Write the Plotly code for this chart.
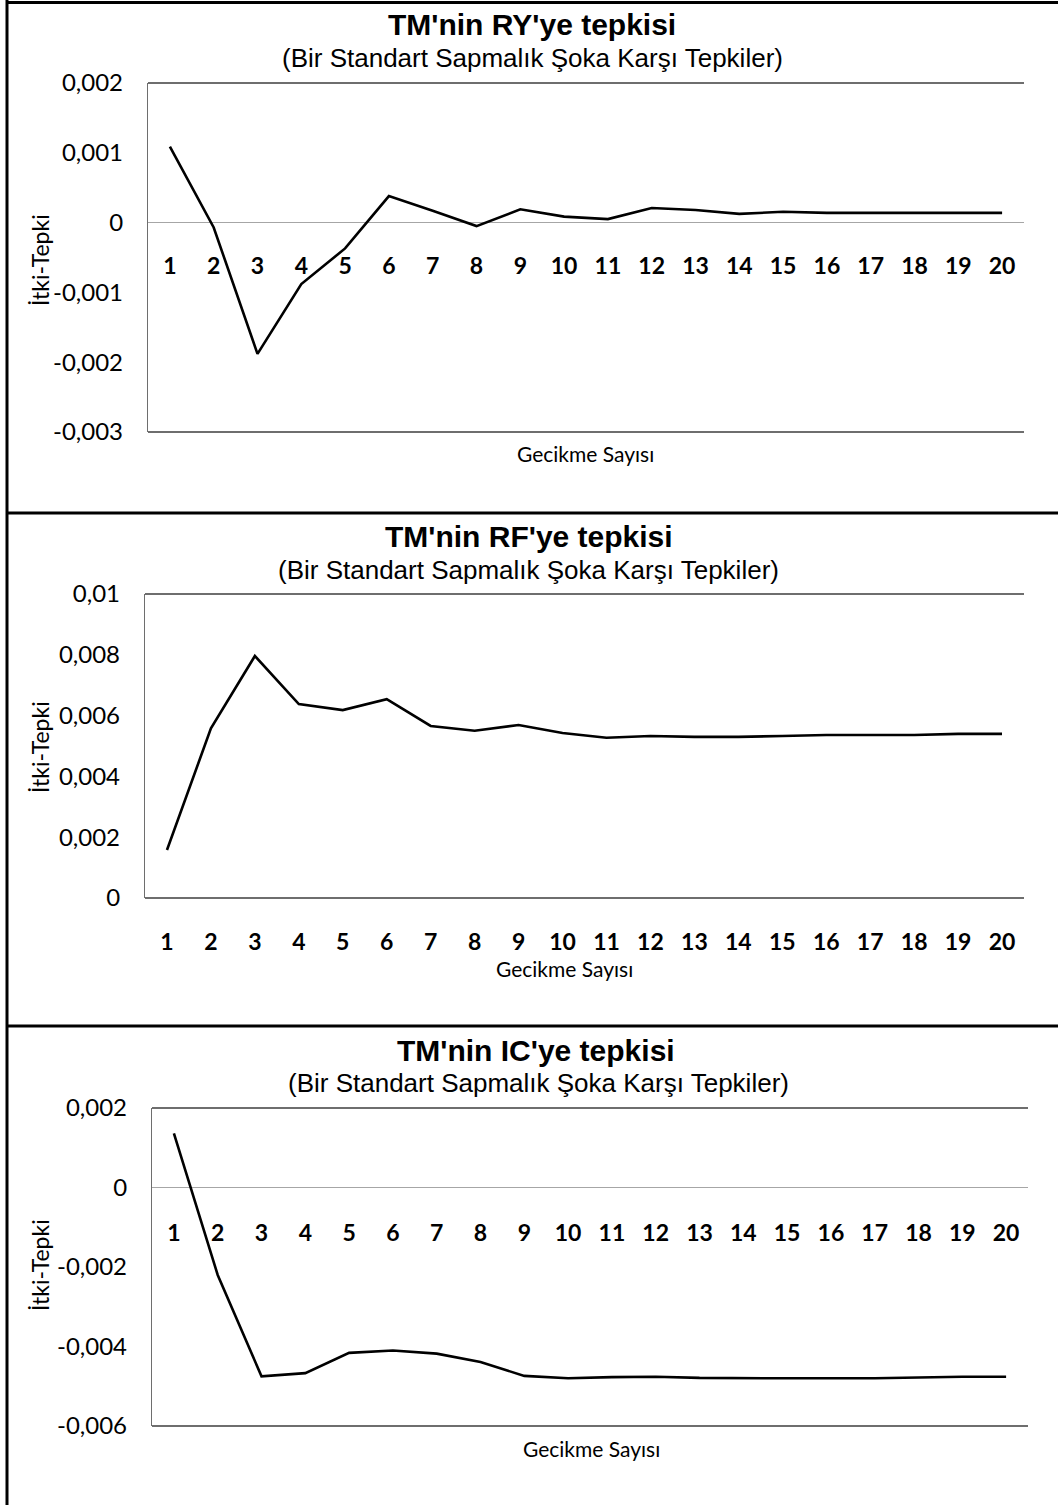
import plotly.graph_objects as go

W, H = 1058, 1505

lags = list(range(1, 21))
lag_labels = [str(i) for i in lags]

ry_resp = [0.00109, -0.00007, -0.00188, -0.00088, -0.00037, 0.00038, 0.00017, -0.00005,
           0.00019, 0.000086, 0.00005, 0.00021, 0.00018, 0.000125, 0.000155, 0.00014,
           0.00014, 0.00014, 0.00014, 0.00014]
rf_resp = [0.00158, 0.00558, 0.00796, 0.00638, 0.00618, 0.00654, 0.00566, 0.0055,
           0.00569, 0.00543, 0.00527, 0.00533, 0.0053, 0.0053, 0.00533, 0.00536,
           0.00536, 0.00536, 0.0054, 0.0054]
ic_resp = [0.00136, -0.0022, -0.00475, -0.00467, -0.00416, -0.0041, -0.00418, -0.00439,
           -0.00474, -0.0048, -0.00477, -0.00476, -0.00479, -0.0048, -0.0048, -0.0048,
           -0.0048, -0.00478, -0.00476, -0.00476]

ry_ticks = [0.002, 0.001, 0, -0.001, -0.002, -0.003]
ry_ticktext = ["0,002", "0,001", "0", "-0,001", "-0,002", "-0,003"]
rf_ticks = [0.01, 0.008, 0.006, 0.004, 0.002, 0]
rf_ticktext = ["0,01", "0,008", "0,006", "0,004", "0,002", "0"]
ic_ticks = [0.002, 0, -0.002, -0.004, -0.006]
ic_ticktext = ["0,002", "0", "-0,002", "-0,004", "-0,006"]

titles = ["TM'nin RY'ye tepkisi", "TM'nin RF'ye tepkisi", "TM'nin IC'ye tepkisi"]
subtitle = "(Bir Standart Sapmalık Şoka Karşı Tepkiler)"
ytitle = "İtki-Tepki"
xtitle = "Gecikme Sayısı"

LABEL_FONT = "Lato, 'Open Sans', sans-serif"
TITLE_FONT = "'Liberation Sans', Arial, sans-serif"


def px_x(p):
    return p / W


def px_y(p):
    return 1 - p / H


panels = [
    dict(vals=ry_resp, ticks=ry_ticks, ticktext=ry_ticktext, rng=[-0.003, 0.002],
         x0=148, x1=1024, top=83, bot=432, lab=250, zero=True,
         title_xy=(532, 24), sub_xy=(532, 58), yt_y=260, xt_xy=(585, 453)),
    dict(vals=rf_resp, ticks=rf_ticks, ticktext=rf_ticktext, rng=[0, 0.01],
         x0=145, x1=1024, top=594, bot=898, lab=926, zero=False,
         title_xy=(529, 537), sub_xy=(528, 570), yt_y=747, xt_xy=(564, 968)),
    dict(vals=ic_resp, ticks=ic_ticks, ticktext=ic_ticktext, rng=[-0.006, 0.002],
         x0=152, x1=1028, top=1108, bot=1426, lab=1217, zero=True,
         title_xy=(536, 1050), sub_xy=(538, 1083), yt_y=1265, xt_xy=(591, 1448)),
]

fig = go.Figure()
shapes = []
annotations = []
layout = {}

for i, p in enumerate(panels):
    n = "" if i == 0 else str(i + 1)
    xa, ya = "x" + n, "y" + n
    fig.add_trace(go.Scatter(x=lags, y=p["vals"], mode="lines",
                             line=dict(color="black", width=2.6),
                             xaxis=xa, yaxis=ya, showlegend=False,
                             hoverinfo="skip"))
    layout["xaxis" + n] = dict(
        domain=[px_x(p["x0"]), px_x(p["x1"])], range=[0.5, 20.5],
        tickvals=lags, ticktext=lag_labels, anchor="free",
        position=px_y(p["lab"]), showline=False, showgrid=False, zeroline=False,
        ticks="", automargin=False,
        tickfont=dict(family=LABEL_FONT, size=23, color="black", weight="bold"),
        fixedrange=True)
    layout["yaxis" + n] = dict(
        domain=[px_y(p["bot"]), px_y(p["top"])], range=p["rng"],
        tickvals=p["ticks"], ticktext=p["ticktext"], anchor=xa,
        showline=True, linecolor="#6e6e6e", linewidth=1.3, showgrid=False,
        zeroline=p["zero"], zerolinecolor="#a6a6a6", zerolinewidth=1.3,
        ticks="", ticklabelstandoff=19, automargin=False,
        tickfont=dict(family=LABEL_FONT, size=24, color="black"),
        fixedrange=True)
    # plot-area top and bottom frame lines
    for yy in (0, 1):
        shapes.append(dict(type="line", xref=xa + " domain", yref=ya + " domain",
                           x0=0, x1=1, y0=yy, y1=yy,
                           line=dict(color="#6e6e6e", width=2)))
    annotations.append(dict(text="<b>" + titles[i] + "</b>", x=px_x(p["title_xy"][0]),
                            y=px_y(p["title_xy"][1]), xref="paper", yref="paper",
                            showarrow=False, xanchor="center", yanchor="middle",
                            font=dict(family=TITLE_FONT, size=30, color="black")))
    annotations.append(dict(text=subtitle, x=px_x(p["sub_xy"][0]),
                            y=px_y(p["sub_xy"][1]), xref="paper", yref="paper",
                            showarrow=False, xanchor="center", yanchor="middle",
                            font=dict(family=TITLE_FONT, size=26, color="black")))
    annotations.append(dict(text=ytitle, x=px_x(40), y=px_y(p["yt_y"]),
                            xref="paper", yref="paper", textangle=-90,
                            showarrow=False, xanchor="center", yanchor="middle",
                            font=dict(family=LABEL_FONT, size=23, color="black")))
    annotations.append(dict(text=xtitle, x=px_x(p["xt_xy"][0]), y=px_y(p["xt_xy"][1]),
                            xref="paper", yref="paper",
                            showarrow=False, xanchor="center", yanchor="middle",
                            font=dict(family=LABEL_FONT, size=21, color="black")))

# outer table borders
shapes.append(dict(type="line", xref="paper", yref="paper", x0=px_x(7), x1=px_x(7),
                   y0=0, y1=1, line=dict(color="black", width=3)))
for yy in (2.5, 513, 1026):
    shapes.append(dict(type="line", xref="paper", yref="paper", x0=px_x(6), x1=1,
                       y0=px_y(yy), y1=px_y(yy), line=dict(color="black", width=3)))

fig.update_layout(**layout)
fig.update_layout(width=W, height=H, margin=dict(l=0, r=0, t=0, b=0, pad=0,
                                                 autoexpand=False),
                  paper_bgcolor="white", plot_bgcolor="white",
                  shapes=shapes, annotations=annotations, showlegend=False)

fig.write_html("out.html", config={"displayModeBar": False})
